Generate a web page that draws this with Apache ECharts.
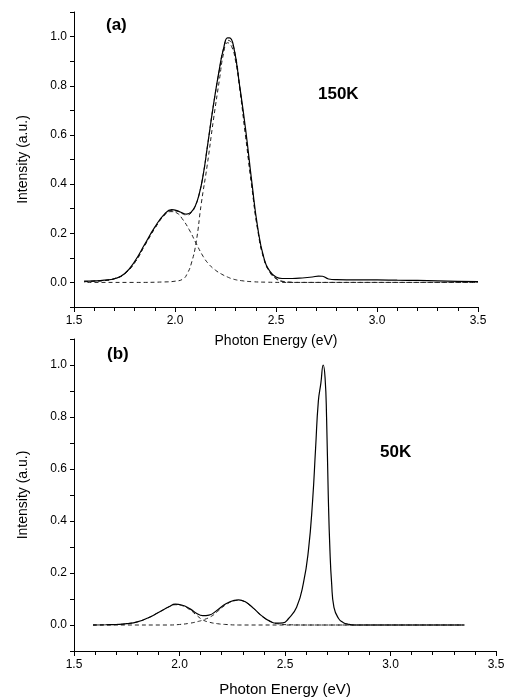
<!DOCTYPE html>
<html>
<head>
<meta charset="utf-8">
<script src="https://cdn.jsdelivr.net/npm/echarts@6/dist/echarts.min.js"></script>
<style>html,body{margin:0;padding:0;background:#fff}#c{width:509px;height:700px}</style>
</head>
<body>
<div id="c"></div>
<script>
// ---- Panel (a) 150K ----
const topMeasured = [[1.55,0.005],[1.60,0.006],[1.65,0.009],[1.70,0.015],[1.75,0.035],[1.80,0.085],[1.85,0.155],[1.90,0.225],[1.95,0.280],[1.984,0.296],[2.01,0.292],[2.035,0.283],[2.058,0.278],[2.08,0.286],[2.10,0.31],[2.12,0.36],[2.14,0.44],[2.16,0.55],[2.19,0.72],[2.22,0.87],[2.24,0.95],[2.26,0.995],[2.27,0.995],[2.29,0.96],[2.32,0.80],[2.35,0.62],[2.38,0.41],[2.41,0.22],[2.44,0.10],[2.47,0.045],[2.50,0.022],[2.53,0.016],[2.58,0.016],[2.63,0.018],[2.68,0.022],[2.71,0.026],[2.73,0.025],[2.76,0.014],[2.80,0.011],[2.90,0.010],[3.00,0.010],[3.10,0.009],[3.20,0.008],[3.30,0.006],[3.40,0.004],[3.50,0.003]];
const topFit = [[1.55,0.003],[1.60,0.005],[1.65,0.008],[1.70,0.015],[1.75,0.035],[1.80,0.08],[1.85,0.15],[1.90,0.22],[1.95,0.278],[1.98,0.292],[2.01,0.290],[2.035,0.28],[2.06,0.274],[2.08,0.283],[2.10,0.31],[2.12,0.36],[2.14,0.44],[2.16,0.55],[2.19,0.72],[2.22,0.865],[2.24,0.95],[2.26,0.985],[2.28,0.975],[2.30,0.92],[2.32,0.80],[2.35,0.60],[2.38,0.395],[2.41,0.215],[2.44,0.098],[2.47,0.042],[2.50,0.017],[2.53,0.005],[2.58,0.001]];
const topPeak1 = [[1.55,0.003],[1.60,0.005],[1.65,0.008],[1.70,0.015],[1.75,0.035],[1.80,0.08],[1.85,0.15],[1.90,0.22],[1.95,0.275],[1.98,0.288],[2.01,0.282],[2.035,0.26],[2.07,0.215],[2.104,0.16],[2.14,0.105],[2.17,0.072],[2.20,0.05],[2.23,0.034],[2.26,0.022],[2.29,0.013],[2.33,0.007],[2.38,0.003],[2.45,0.001],[2.55,0],[3.50,0]];
const topPeak2 = [[1.55,0],[1.80,0],[1.95,0.002],[2.00,0.005],[2.04,0.014],[2.06,0.035],[2.08,0.075],[2.104,0.16],[2.13,0.32],[2.16,0.48],[2.19,0.66],[2.22,0.825],[2.24,0.93],[2.26,0.975],[2.28,0.96],[2.30,0.90],[2.32,0.79],[2.35,0.59],[2.38,0.39],[2.41,0.21],[2.44,0.095],[2.47,0.04],[2.50,0.015],[2.53,0.004],[2.58,0],[3.50,0]];

// ---- Panel (b) 50K ----
const botMeasured = [[1.59,0],[1.65,0.001],[1.70,0.002],[1.75,0.005],[1.80,0.012],[1.85,0.027],[1.90,0.048],[1.95,0.070],[1.98,0.080],[2.01,0.077],[2.05,0.062],[2.08,0.045],[2.11,0.036],[2.14,0.038],[2.18,0.058],[2.22,0.082],[2.26,0.095],[2.28,0.097],[2.31,0.090],[2.35,0.065],[2.39,0.035],[2.43,0.014],[2.46,0.007],[2.49,0.008],[2.516,0.024],[2.555,0.068],[2.587,0.16],[2.611,0.287],[2.631,0.48],[2.645,0.68],[2.658,0.86],[2.67,0.93],[2.681,1.0],[2.69,0.95],[2.697,0.80],[2.705,0.50],[2.713,0.287],[2.721,0.16],[2.732,0.068],[2.753,0.026],[2.775,0.01],[2.80,0.003],[2.83,0],[3.35,0]];
const botPeak1 = [[1.59,0],[1.70,0.002],[1.75,0.005],[1.80,0.012],[1.85,0.027],[1.90,0.048],[1.95,0.070],[1.98,0.078],[2.01,0.075],[2.05,0.058],[2.08,0.038],[2.11,0.020],[2.14,0.011],[2.18,0.005],[2.22,0.002],[2.28,0],[3.35,0]];
const botPeak2 = [[1.59,0],[1.95,0],[2.00,0.002],[2.05,0.007],[2.09,0.014],[2.11,0.019],[2.15,0.033],[2.18,0.052],[2.22,0.078],[2.26,0.093],[2.28,0.095],[2.31,0.089],[2.35,0.064],[2.39,0.035],[2.43,0.014],[2.47,0.004],[2.52,0.001],[2.60,0],[3.35,0]];

const xTicks = {min:1.5, max:3.5, interval:0.5};
const yTicks = {min:-0.1, max:1.1, interval:0.1};
const labelsText = {a:'(a)', t1:'150K', b:'(b)', t2:'50K'};
const xName = 'Photon Energy (eV)';
const yName = 'Intensity (a.u.)';

const FONT = '"Liberation Sans", Arial, sans-serif';
const chart = echarts.init(document.getElementById('c'), null, {renderer:'canvas'});

function xAxis(gi){
  return {
    gridIndex: gi, type:'value', min:xTicks.min, max:xTicks.max, interval:xTicks.interval,
    name: xName, nameLocation:'middle', nameGap: gi===0 ? 27 : 31,
    nameTextStyle:{fontFamily:FONT, fontSize: gi===0 ? 14 : 15, color:'#000'},
    axisLine:{show:true, onZero:false, lineStyle:{color:'#000', width:1}},
    axisTick:{show:true, inside:false, length:5, lineStyle:{color:'#000'}},
    minorTick:{show:true, splitNumber:5, length:4, lineStyle:{color:'#000'}},
    axisLabel:{fontFamily:FONT, fontSize:12, color:'#000', margin:8, formatter:v=>v.toFixed(1)},
    splitLine:{show:false}
  };
}
function yAxis(gi){
  return {
    gridIndex: gi, type:'value', min:yTicks.min, max:yTicks.max, interval:yTicks.interval,
    name: yName, nameLocation:'middle', nameGap:44,
    nameTextStyle:{fontFamily:FONT, fontSize:14, color:'#000'},
    axisLine:{show:true, onZero:false, lineStyle:{color:'#000', width:1}},
    axisTick:{show:true, inside:false, length:4, lineStyle:{color:'#000'}},
    axisLabel:{fontFamily:FONT, fontSize:12, color:'#000', margin:7, showMinLabel:true, showMaxLabel:true,
      formatter:function(v){ const k=Math.round(v*10); return (k>=0 && k<=10 && k%2===0) ? (k/10).toFixed(1) : ''; }},
    splitLine:{show:false}
  };
}
function line(xi, data, dashed, extra){
  return Object.assign({
    type:'line', xAxisIndex:xi, yAxisIndex:xi, data:data, showSymbol:false, symbol:'none',
    smooth:0.5, animation:false, silent:true,
    lineStyle: dashed ? {color:'#222', width:1, type:[4,3]} : {color:'#000', width:1.2}
  }, extra||{});
}

chart.setOption({
  backgroundColor:'#fff',
  animation:false,
  grid:[
    {left:74, right:31, top:12, height:295, containLabel:false},
    {left:74, right:13, top:339, height:312, containLabel:false}
  ],
  xAxis:[xAxis(0), xAxis(1)],
  yAxis:[yAxis(0), yAxis(1)],
  series:[
    line(0, topPeak1, true),
    line(0, topPeak2, true, {lineStyle:{color:'#222', width:1, type:[4,3], dashOffset:3.5}}),
    line(0, topFit, true),
    line(0, topMeasured, false),
    line(1, botPeak1, true),
    line(1, botPeak2, true),
    line(1, botMeasured, false)
  ],
  graphic:[
    {type:'text', left:106, top:17, style:{text:labelsText.a, font:'bold 17px '+FONT, fill:'#000'}},
    {type:'text', left:318, top:86, style:{text:labelsText.t1, font:'bold 17px '+FONT, fill:'#000'}},
    {type:'text', left:107, top:346, style:{text:labelsText.b, font:'bold 17px '+FONT, fill:'#000'}},
    {type:'text', left:380, top:444, style:{text:labelsText.t2, font:'bold 17px '+FONT, fill:'#000'}}
  ]
});
</script>
</body>
</html>
